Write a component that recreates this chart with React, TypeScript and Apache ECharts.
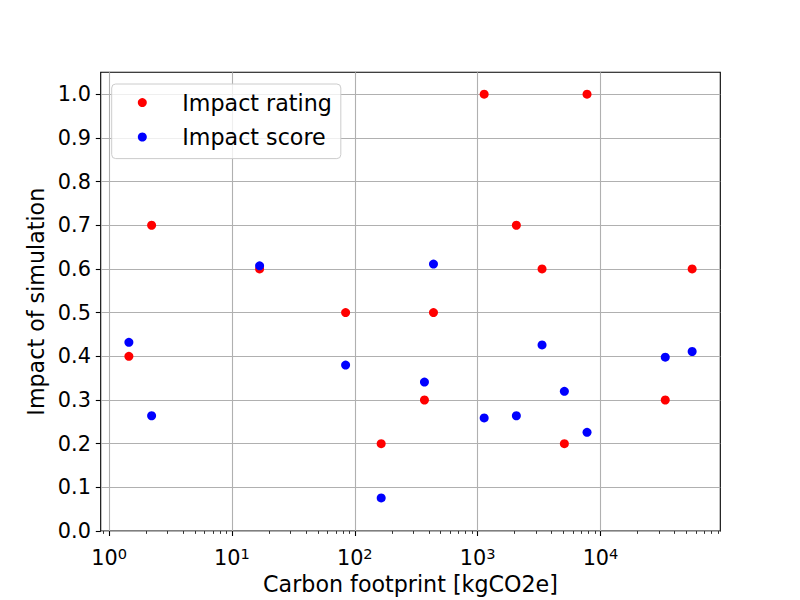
import React, { useEffect, useRef } from "react";
import * as echarts from "echarts";

// Data
const footprint = [1.45, 2.22, 16.8, 84.2, 164, 369, 437, 1130, 2066, 3343, 5080, 7768, 33650, 55700];
const impactRating = [0.4, 0.7, 0.6, 0.5, 0.2, 0.3, 0.5, 1.0, 0.7, 0.6, 0.2, 1.0, 0.3, 0.6];
const impactScore = [0.432, 0.264, 0.607, 0.38, 0.076, 0.341, 0.611, 0.259, 0.264, 0.426, 0.32, 0.226, 0.398, 0.411];

const seriesNames = ["Impact rating", "Impact score"];
const xMajorTicks = [1, 10, 100, 1000, 10000];
const xMinorTicks: number[] = [0.9];
for (let d = 0; d <= 4; d++) {
  for (let m = 2; m <= 9; m++) xMinorTicks.push(m * Math.pow(10, d));
}
const yTicks = [0, 0.1, 0.2, 0.3, 0.4, 0.5, 0.6, 0.7, 0.8, 0.9, 1.0];

const FONT = "DejaVu Sans";
const FS = 20.8;
const FSL = 22.2;

export default function App() {
  const ref = useRef<HTMLDivElement>(null);
  useEffect(() => {
    if (!ref.current) return;
    const chart = echarts.init(ref.current, null, { renderer: "svg" });
    const rating = footprint.map((x, i) => [x, impactRating[i]]);
    const score = footprint.map((x, i) => [x, impactScore[i]]);
    const xCommon = {
      type: "log",
      logBase: 10,
      min: 0.855,
      max: 94400,
      gridIndex: 0,
      position: "bottom",
    };
    chart.setOption({
      animation: false,
      backgroundColor: "#ffffff",
      grid: {
        left: 100.7,
        right: 79.7,
        top: 72.3,
        bottom: 65.7,
        show: true,
        borderColor: "#000",
        borderWidth: 1.1,
        backgroundColor: "transparent",
      },
      legend: {
        data: seriesNames,
        orient: "vertical",
        left: 111.7,
        top: 84,
        padding: [5.6, 9, 8.6, 26.1],
        itemWidth: 9,
        itemHeight: 9,
        itemGap: 8.4,
        icon: "circle",
        backgroundColor: "rgba(255,255,255,0.8)",
        borderColor: "#cccccc",
        borderWidth: 1,
        borderRadius: 4,
        textStyle: {
          fontFamily: FONT,
          fontSize: FSL,
          color: "#000",
          lineHeight: 26,
          padding: [0, 0, 0, 30.5],
        },
      },
      xAxis: [
        {
          ...xCommon,
          name: "Carbon footprint [kgCO2e]",
          nameLocation: "middle",
          nameGap: 38,
          nameTextStyle: { fontFamily: FONT, fontSize: FSL, color: "#000" },
          axisLine: { show: false },
          axisTick: {
            show: true,
            customValues: xMajorTicks,
            length: 4.9,
            lineStyle: { color: "#000", width: 1.1 },
          },
          axisLabel: {
            customValues: xMajorTicks,
            margin: 8,
            formatter: (v: number) => `{b|10}{s|${Math.round(Math.log10(v))}}`,
            rich: {
              b: { fontFamily: FONT, fontSize: FS, color: "#000", padding: [8, 0, 0, 0] },
              s: { fontFamily: FONT, fontSize: 14.6, color: "#000", padding: [0, 0, 0, 0] },
            },
          },
          splitLine: { show: true, lineStyle: { color: "#b0b0b0", width: 1.1 } },
        },
        {
          ...xCommon,
          axisLine: { show: false },
          axisTick: {
            show: true,
            customValues: xMinorTicks,
            length: 2.8,
            lineStyle: { color: "#000", width: 0.8 },
          },
          axisLabel: { show: false },
          splitLine: { show: false },
        },
      ],
      yAxis: {
        type: "value",
        min: 0,
        max: 1.05,
        interval: 0.1,
        name: "Impact of simulation",
        nameLocation: "middle",
        nameRotate: 90,
        nameGap: 53,
        nameTextStyle: { fontFamily: FONT, fontSize: FSL, color: "#000" },
        axisLine: { show: false },
        axisTick: {
          show: true,
          customValues: yTicks,
          length: 4.9,
          lineStyle: { color: "#000", width: 1.1 },
        },
        axisLabel: {
          customValues: yTicks,
          margin: 9.8,
          fontFamily: FONT,
          fontSize: FS,
          color: "#000",
          formatter: (v: number) => v.toFixed(1),
        },
        splitLine: { show: true, lineStyle: { color: "#b0b0b0", width: 1.1 } },
      },
      series: [
        {
          name: seriesNames[0],
          type: "scatter",
          xAxisIndex: 0,
          data: rating,
          symbol: "circle",
          symbolSize: 9,
          itemStyle: { color: "#ff0000", opacity: 1 },
          z: 3,
        },
        {
          name: seriesNames[1],
          type: "scatter",
          xAxisIndex: 0,
          data: score,
          symbol: "circle",
          symbolSize: 9,
          itemStyle: { color: "#0000ff", opacity: 1 },
          z: 4,
        },
      ],
    });
    return () => chart.dispose();
  }, []);
  return (
    <div
      ref={ref}
      style={{ position: "fixed", left: 0, top: 0, width: 800, height: 600 }}
    />
  );
}
